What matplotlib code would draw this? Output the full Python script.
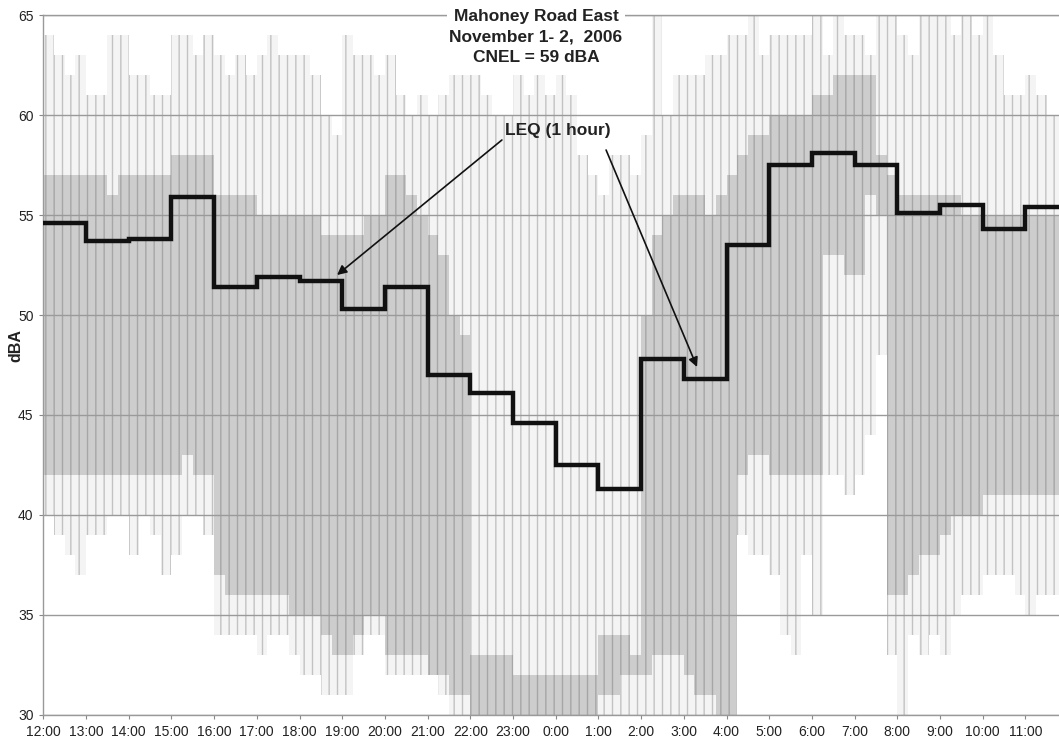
import numpy as np
import matplotlib
matplotlib.use("Agg")
import matplotlib.pyplot as plt

plt.rcParams['font.family'] = ['Liberation Sans', 'DejaVu Sans']
plt.rcParams['hatch.linewidth'] = 1.0

# hour labels, starting at noon on Nov 1
hour_labels = ["12:00", "13:00", "14:00", "15:00", "16:00", "17:00", "18:00",
               "19:00", "20:00", "21:00", "22:00", "23:00", "0:00", "1:00",
               "2:00", "3:00", "4:00", "5:00", "6:00", "7:00", "8:00", "9:00",
               "10:00", "11:00"]

# hourly Leq (dBA)
leq_hourly = [54.6, 53.7, 53.8, 55.9, 51.4, 51.9, 51.7, 50.3, 51.4, 47.0,
              46.1, 44.6, 42.5, 41.3, 47.8, 46.8, 53.5, 57.5, 58.1, 57.5,
              55.1, 55.5, 54.3, 55.4]

# grey trace envelope, estimated per 15 minutes (4 values per hour)
trace_peak = [64, 63, 62, 63,  61, 61, 64, 64,  62, 62, 61, 61,  64, 64, 63, 64,
              63, 62, 63, 62,  63, 64, 63, 63,  63, 62, 60, 59,  64, 63, 63, 62,
              63, 61, 60, 61,  60, 61, 62, 62,  62, 61, 60, 60,  62, 61, 62, 61,
              62, 61, 58, 57,  56, 58, 58, 57,  59, 65, 60, 62,  62, 62, 63, 63,
              64, 64, 65, 63,  64, 64, 64, 64,  65, 63, 65, 64,  64, 63, 65, 65,
              64, 63, 65, 65,  65, 64, 65, 64,  65, 63, 61, 61,  62, 61, 60, 60]

trace_upper = [57, 57, 57, 57,  57, 57, 56, 57,  57, 57, 57, 57,  58, 58, 58, 58,
               56, 56, 56, 56,  55, 55, 55, 55,  55, 55, 54, 54,  54, 54, 55, 55,
               57, 57, 56, 55,  54, 53, 50, 49,  33, 33, 33, 33,  32, 32, 32, 32,
               32, 32, 32, 32,  34, 34, 34, 33,  50, 54, 55, 56,  56, 56, 55, 56,
               57, 58, 59, 59,  60, 60, 60, 60,  61, 61, 62, 62,  62, 62, 58, 57,
               56, 56, 56, 56,  56, 56, 55, 55,  55, 55, 55, 55,  55, 55, 55, 55]

trace_lower = [42, 42, 42, 42,  42, 42, 42, 42,  42, 42, 42, 42,  42, 43, 42, 42,
               37, 36, 36, 36,  36, 36, 36, 35,  35, 35, 34, 33,  33, 34, 35, 35,
               33, 33, 33, 33,  32, 32, 31, 31,  30, 30, 30, 30,  30, 30, 30, 30,
               30, 30, 30, 30,  31, 31, 32, 32,  32, 33, 33, 33,  32, 31, 31, 30,
               30, 42, 43, 43,  42, 42, 42, 42,  42, 53, 53, 52,  52, 56, 55, 36,
               36, 37, 38, 38,  39, 40, 40, 40,  41, 41, 41, 41,  41, 41, 41, 41]

trace_floor = [40, 39, 38, 37,  39, 39, 40, 40,  38, 40, 39, 37,  38, 40, 40, 39,
               34, 34, 34, 34,  33, 34, 34, 33,  32, 32, 31, 31,  31, 33, 34, 34,
               32, 32, 32, 32,  32, 31, 30, 30,  30, 30, 30, 30,  30, 30, 30, 30,
               30, 30, 30, 30,  30, 30, 30, 30,  30, 30, 30, 30,  30, 30, 30, 30,
               30, 39, 38, 38,  37, 34, 33, 38,  35, 42, 42, 41,  42, 44, 48, 33,
               30, 34, 33, 34,  33, 35, 36, 36,  37, 37, 37, 36,  35, 36, 36, 36]


def stepped(values):
    return np.append(values, values[-1])


W, H = 1059, 748
fig = plt.figure(figsize=(W / 100, H / 100), dpi=100)
ax = fig.add_axes([43.3 / W, (H - 715) / H, (W - 43.3) / W, 700 / H])

t = np.arange(len(trace_peak) + 1) * 0.25

# sparse spikes: full range of the trace
ax.fill_between(t, stepped(trace_floor), stepped(trace_peak), step='post',
                facecolor='#f4f4f4', edgecolor='#c2c2c2', hatch='||',
                linewidth=0, zorder=1)
# dense part of the trace
ax.fill_between(t, stepped(trace_lower), stepped(trace_upper), step='post',
                facecolor='#cdcdcd', edgecolor='#a6a6a6', hatch='||',
                linewidth=0, zorder=1.2)

# hourly Leq step line
th = np.arange(len(leq_hourly) + 1)
ax.step(th, stepped(leq_hourly), where='post', color='#111111', lw=3.2,
        solid_joinstyle='miter', zorder=3)

ax.set_xlim(0, (W - 43.3) / 42.7)
ax.set_ylim(30, 65)
ax.set_yticks(np.arange(30, 66, 5))
ax.set_xticks(np.arange(24))
ax.set_xticklabels(hour_labels)
ax.tick_params(axis='both', labelsize=10, length=3, width=0.8, pad=4,
               colors='#888888', labelcolor='#222222')
ax.grid(axis='y', color='#9a9a9a', lw=1.0, zorder=1.5)
ax.spines['right'].set_visible(False)
for side in ['left', 'bottom', 'top']:
    ax.spines[side].set_color('#9a9a9a')
    ax.spines[side].set_linewidth(1.0)

fig.text(16 / W, 1 - 346 / H, 'dBA', rotation=90, ha='center', va='center',
         fontsize=11.5, fontweight='bold', color='#222222')

fig.text(536 / W, 1 - 37 / H, "Mahoney Road East\nNovember 1- 2,  2006\nCNEL = 59 dBA",
         ha='center', va='center', fontsize=12.5, fontweight='bold',
         color='#222222', linespacing=1.5, zorder=6,
         bbox=dict(facecolor='white', edgecolor='none', pad=2))

# Leq annotation with two arrows
ax.text(12.05, 59.25, "LEQ (1 hour)", ha='center', va='center', fontsize=12.5,
        fontweight='bold', color='#222222', zorder=6)
arrow = dict(arrowstyle='-|>', color='#111111', lw=1.2, mutation_scale=14,
             shrinkA=0, shrinkB=0)
ax.annotate('', xy=(6.88, 52.0), xytext=(10.74, 58.75), arrowprops=arrow,
            zorder=6)
ax.annotate('', xy=(15.31, 47.4), xytext=(13.18, 58.25), arrowprops=arrow,
            zorder=6)

fig.savefig('out.png', dpi=100)
